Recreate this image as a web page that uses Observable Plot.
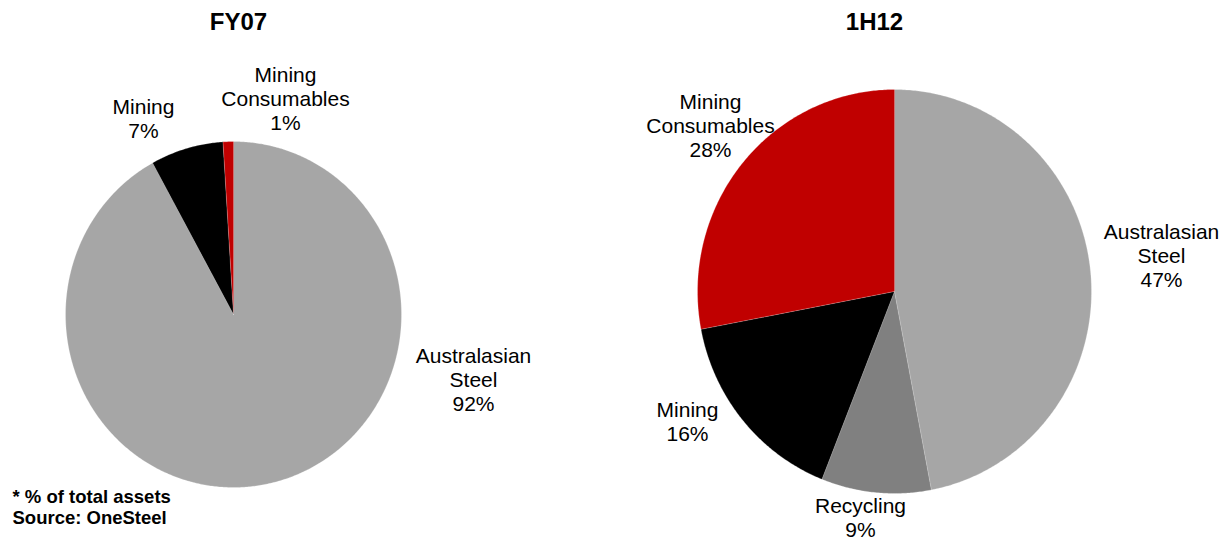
<!DOCTYPE html>
<html>
<head>
<meta charset="utf-8">
<script src="https://cdn.jsdelivr.net/npm/d3@7"></script>
<script src="https://cdn.jsdelivr.net/npm/@observablehq/plot@0.6"></script>
<style>
  html, body { margin: 0; padding: 0; background: #fff; }
  #chart svg { display: block; }
</style>
</head>
<body>
<div id="chart"></div>
<script>
// ---------------- data ----------------
const panelTitles = ["FY07", "1H12"];
const fy07Segments = ["Australasian Steel", "Mining", "Mining Consumables"];
const fy07Shares = [92, 7, 1];
const h112Segments = ["Australasian Steel", "Recycling", "Mining", "Mining Consumables"];
const h112Shares = [47, 9, 16, 28];
const footnotes = ["* % of total assets", "Source: OneSteel"];

// ---------------- styles / layout ----------------
const segmentColors = {
  "Australasian Steel": "#a6a6a6",
  "Recycling": "#808080",
  "Mining": "#000000",
  "Mining Consumables": "#c00000"
};
const pieLayout = [
  {cx: 233, cy: 314, rx: 168, ry: 173, titleX: 238, titleY: 22,
   labels: {"Australasian Steel": [473, 379], "Mining": [143, 118], "Mining Consumables": [285, 98]}},
  {cx: 894, cy: 291, rx: 197, ry: 202, titleX: 874, titleY: 22,
   labels: {"Australasian Steel": [1161, 255], "Recycling": [860, 517], "Mining": [687, 421], "Mining Consumables": [710, 125]}}
];
const W = 1230, H = 541;

const panels = [
  {segments: fy07Segments, shares: fy07Shares},
  {segments: h112Segments, shares: h112Shares}
];

// build slice outlines from the pie layout of the data
const slicePts = [];
const labelRows = [];
panels.forEach((p, pi) => {
  const L = pieLayout[pi];
  const rows = p.segments.map((s, i) => ({segment: s, value: p.shares[i]}));
  const arcs = d3.pie().sort(null).value(d => d.value).startAngle(0).endAngle(2 * Math.PI)(rows);
  arcs.forEach((a, ai) => {
    const key = pi + "-" + ai;
    const color = segmentColors[a.data.segment];
    slicePts.push({key, color, x: L.cx, y: L.cy});
    const n = Math.max(2, Math.ceil((a.endAngle - a.startAngle) / (Math.PI / 360)));
    for (let k = 0; k <= n; ++k) {
      const t = a.startAngle + (a.endAngle - a.startAngle) * k / n;
      slicePts.push({key, color, x: L.cx + L.rx * Math.sin(t), y: L.cy - L.ry * Math.cos(t)});
    }
    const pos = L.labels[a.data.segment];
    labelRows.push({x: pos[0], y: pos[1], text: a.data.segment.replace(" ", "\n") + "\n" + a.data.value + "%"});
  });
});

const titleRows = panelTitles.map((t, i) => ({x: pieLayout[i].titleX, y: pieLayout[i].titleY, text: t}));
const footRows = [{x: 12, y: 506, text: footnotes.join("\n")}];

const chart = Plot.plot({
  width: W,
  height: H,
  margin: 0,
  style: {fontFamily: "'Liberation Sans', Arial, sans-serif", background: "#fff", color: "#000"},
  x: {domain: [0, W], range: [0, W], axis: null},
  y: {domain: [0, H], range: [0, H], axis: null},
  color: {type: "identity"},
  marks: [
    Plot.line(slicePts, {x: "x", y: "y", z: "key", fill: "color", stroke: "white", strokeWidth: 0.3, strokeOpacity: 0.8, strokeLinejoin: "miter", curve: "linear"}),
    Plot.text(labelRows, {x: "x", y: "y", text: "text", fontSize: 21, lineHeight: 1.15, textAnchor: "middle", fill: "#000"}),
    Plot.text(titleRows, {x: "x", y: "y", text: "text", fontSize: 24, fontWeight: "bold", textAnchor: "middle", fill: "#000"}),
    Plot.text(footRows, {x: "x", y: "y", text: "text", fontSize: 18.5, fontWeight: "bold", lineHeight: 1.18, textAnchor: "start", fill: "#000"})
  ]
});
document.getElementById("chart").appendChild(chart);
</script>
</body>
</html>
